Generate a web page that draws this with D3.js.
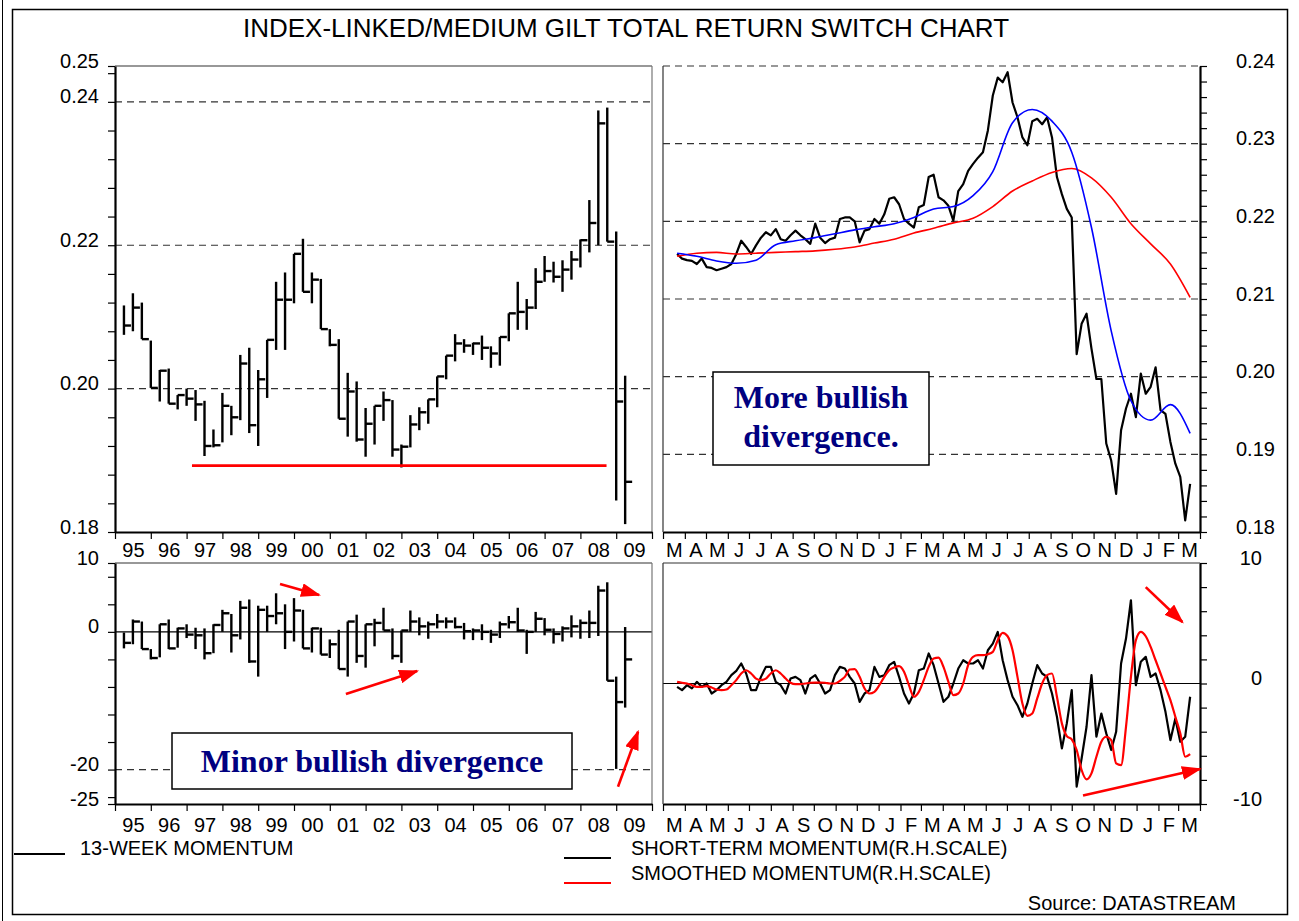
<!DOCTYPE html>
<html>
<head>
<meta charset="utf-8">
<script src="https://cdn.jsdelivr.net/npm/d3@7"></script>
<style>
  body { margin: 0; background: #fff; }
  svg { font-family: "Liberation Sans", Arial, sans-serif; }
</style>
</head>
<body>
<svg id="chart" width="1299" height="921"></svg>
<script>
// ---- quarterly bars, 1995Q1 .. 2009Q1 (high / low / close) ----
const ratioHigh = [0.2116, 0.2133, 0.2120, 0.2067, 0.2026, 0.2028, 0.1991, 0.2000, 0.1998, 0.1983,
  0.1943, 0.1994, 0.1976, 0.2047, 0.2057, 0.2026, 0.2068, 0.2149, 0.2162, 0.2188,
  0.2209, 0.2162, 0.2153, 0.2083, 0.2069, 0.2022, 0.2010, 0.1973, 0.1976, 0.1996,
  0.1984, 0.1922, 0.1963, 0.1974, 0.1985, 0.2017, 0.2046, 0.2076, 0.2069, 0.2064,
  0.2074, 0.2059, 0.2072, 0.2105, 0.2149, 0.2125, 0.2168, 0.2185, 0.2177, 0.2179,
  0.2192, 0.2208, 0.2263, 0.2388, 0.2392, 0.2219, 0.2018];
const ratioLow = [0.2075, 0.2080, 0.2069, 0.2001, 0.1982, 0.1979, 0.1971, 0.1976, 0.1955, 0.1906,
  0.1918, 0.1925, 0.1935, 0.1956, 0.1938, 0.1920, 0.1987, 0.2054, 0.2054, 0.2119,
  0.2135, 0.2119, 0.2083, 0.2059, 0.1958, 0.1933, 0.1926, 0.1905, 0.1922, 0.1955,
  0.1905, 0.1890, 0.1918, 0.1942, 0.1951, 0.1974, 0.2013, 0.2038, 0.2050, 0.2047,
  0.2040, 0.2029, 0.2032, 0.2066, 0.2082, 0.2082, 0.2111, 0.2149, 0.2148, 0.2135,
  0.2152, 0.2169, 0.2190, 0.2200, 0.2205, 0.1844, 0.1811];
const ratioClose = [0.2088, 0.2113, 0.2069, 0.2001, 0.2025, 0.1979, 0.1991, 0.1986, 0.1978, 0.1920,
  0.1921, 0.1976, 0.1960, 0.2035, 0.1949, 0.2013, 0.2068, 0.2124, 0.2124, 0.2188,
  0.2135, 0.2152, 0.2083, 0.2061, 0.1958, 0.1996, 0.1929, 0.1951, 0.1976, 0.1984,
  0.1915, 0.1919, 0.1950, 0.1967, 0.1985, 0.2017, 0.2046, 0.2063, 0.2060, 0.2063,
  0.2057, 0.2049, 0.2072, 0.2105, 0.2107, 0.2113, 0.2149, 0.2164, 0.2156, 0.2166,
  0.2180, 0.2207, 0.2231, 0.2370, 0.2205, 0.1982, 0.1870];

const momHigh = [-0.1, 1.8, 1.5, -2.5, 1.1, 1.8, 0.6, 1.1, 0.6, 0.5,
  1.1, 3.2, 2.6, 4.5, 4.7, 3.8, 3.8, 5.6, 4.0, 4.9,
  3.2, 0.6, 0.6, -1.1, 0.3, 1.5, 2.5, 1.1, 1.9, 3.5,
  0.5, 0.2, 3.1, 2.1, 1.5, 2.6, 2.1, 2.1, 1.3, 0.5,
  1.1, 0.3, 1.5, 2.3, 3.5, 0.3, 2.9, 2.0, 0.5, 0.8,
  2.4, 1.8, 3.1, 6.7, 7.2, -6.5, 0.7];
const momLow = [-2.4, -1.8, -2.5, -4.0, -3.7, -2.5, -2.3, -0.9, -2.5, -4.0,
  -3.1, 0, -3.0, -1.1, -4.5, -6.5, 0, 1.1, -2.5, -1.4,
  -2.4, -3.0, -3.3, -3.8, -5.4, -6.5, -4.5, -5.2, -2.1, 0.2,
  -4.0, -4.5, 0, -0.5, -1.0, 0.5, 0.5, 0.5, -1.1, -1.2,
  -1.2, -1.6, -0.9, 0.5, 0, -3.2, 0, -0.5, -1.7, -1.4,
  -0.8, -1.0, -0.9, -0.6, -7.1, -19.9, -11.0];
const momClose = [-1.6, 1.5, -2.5, -3.8, 1.1, -2.4, 0.5, -0.4, -0.5, -3.1,
  1.0, 2.7, -0.5, 3.5, -4.3, 3.2, 2.3, 2.7, 0, 3.1,
  -2.4, 0.5, -3.3, -1.8, -5.4, 1.5, -3.5, 1.1, 1.3, 0.2,
  -3.5, 0.2, 1.5, 0.8, 1.1, 1.5, 1.5, 0.7, 0.1, 0.2,
  0, -0.4, 1.1, 1.4, 0.2, 0, 1.9, 0.3, -0.3, 0.5,
  0.8, 1.3, 1.3, 6.0, -7.1, -10.2, -4.0];

// ---- weekly series, from 21 Mar 2007 ----
const ratioWeekly = [0.2158, 0.2152, 0.2150, 0.2149, 0.2145, 0.2152, 0.2141, 0.2140, 0.2137, 0.2139,
  0.2141, 0.2145, 0.2158, 0.2175, 0.2167, 0.2158, 0.2169, 0.2179, 0.2186, 0.2182,
  0.2190, 0.2177, 0.2175, 0.2182, 0.2188, 0.2182, 0.2177, 0.2171, 0.2197, 0.2179,
  0.2172, 0.2177, 0.2179, 0.2203, 0.2205, 0.2205, 0.2200, 0.2173, 0.2188, 0.2190,
  0.2203, 0.2197, 0.2209, 0.2229, 0.2231, 0.2222, 0.2203, 0.2197, 0.2192, 0.2218,
  0.2221, 0.2257, 0.2260, 0.2231, 0.2227, 0.2220, 0.2201, 0.2239, 0.2248, 0.2265,
  0.2274, 0.2282, 0.2289, 0.2317, 0.2362, 0.2385, 0.2379, 0.2392, 0.2353, 0.2334,
  0.2308, 0.2298, 0.2329, 0.2332, 0.2325, 0.2334, 0.2308, 0.2257, 0.2235, 0.2216,
  0.2205, 0.2029, 0.2068, 0.2081, 0.2036, 0.1997, 0.1997, 0.1914, 0.1892, 0.1849,
  0.1931, 0.1959, 0.1978, 0.1948, 0.2004, 0.1978, 0.1987, 0.2012, 0.1957, 0.1952,
  0.1916, 0.1888, 0.1871, 0.1815, 0.1862];
// moving averages, every 4 weeks
const ratioShortMA = [0.2159, 0.2155, 0.2149, 0.2146, 0.2150, 0.2170, 0.2175, 0.2179, 0.2184, 0.2189,
  0.2193, 0.2197, 0.2205, 0.2216, 0.2219, 0.2233, 0.2264, 0.2327, 0.2344, 0.2329,
  0.2289, 0.2192, 0.2059, 0.1969, 0.1944, 0.1964, 0.1927];
const ratioLongMA = [0.2155, 0.2159, 0.2160, 0.2158, 0.2159, 0.2160, 0.2161, 0.2162, 0.2164, 0.2167,
  0.2172, 0.2177, 0.2185, 0.2191, 0.2198, 0.2204, 0.2219, 0.2239, 0.2252, 0.2263,
  0.2268, 0.2256, 0.2231, 0.2197, 0.2171, 0.2145, 0.2102];

const shortMomentum = [-0.28, -0.55, -0.14, -0.41, 0.14, -0.28, 0, -0.83, -0.55, -0.14,
  0.14, 0.69, 1.05, 1.66, 0.83, -0.55, -0.55, 0.55, 1.38, 1.38,
  0.14, -0.14, -0.83, 0.41, 0.55, 0.28, -0.83, 0.41, 0.69, 0,
  -0.83, -0.55, 0.69, 1.38, 1.24, 0.55, 0, -1.52, -0.83, -0.55,
  1.38, 0.55, 0.69, 1.52, 1.80, 0.55, -0.83, -1.66, -0.83, 1.10,
  1.24, 2.49, 1.52, 0, -1.52, -1.10, 0, 1.24, 1.93, 1.66,
  1.66, 1.93, 1.24, 2.76, 3.31, 4.28, 1.93, 0.28, -1.10, -1.80,
  -2.76, -1.66, 0, 1.52, 0.83, 0.55, -0.83, -2.76, -5.39, -3.31,
  -0.55, -8.56, -6.22, -3.59, 0.69, -4.42, -2.49, -4.14, -5.52, -4.01,
  1.66, 3.73, 6.91, -0.14, 1.80, 2.21, 0.55, 0.83, -0.55, -2.35,
  -4.70, -2.90, -4.83, -4.42, -1.10];
const smoothMomentum = [0.14, 0.06, 0, -0.14, -0.28, -0.28, -0.22, -0.33, -0.50, -0.55,
  -0.50, -0.14, 0.28, 0.83, 1.10, 0.83, 0.41, 0.28, 0.41, 0.83,
  1.10, 0.83, 0.41, 0.06, -0.06, -0.06, 0, 0.06, 0.08, 0.08,
  0.06, 0, 0, 0.22, 0.55, 1.16, 1.19, 0.55, -0.41, -0.83,
  -0.69, -0.14, 0.55, 1.10, 1.33, 1.44, 0.97, -0.14, -1.10, -0.69,
  0.28, 1.38, 2.07, 2.15, 1.38, 0.14, -0.97, -0.83, 0, 1.52,
  2.21, 2.35, 2.35, 2.43, 2.62, 3.59, 4.20, 3.92, 2.76, 0.55,
  -1.66, -2.68, -2.49, -1.24, 0, 0.69, 0.83, -1.10, -3.31, -4.36,
  -4.64, -5.52, -7.18, -7.96, -7.46, -6.08, -4.83, -4.42, -4.70, -6.63,
  -6.77, -3.59, 0.55, 3.59, 4.28, 3.92, 3.04, 1.93, 0.83, -0.28,
  -1.38, -2.76, -4.14, -6.08, -5.86];

// ---- tick labels ----
const yearLabels = ["95", "96", "97", "98", "99", "00", "01", "02", "03", "04", "05", "06", "07", "08", "09"];
const monthLabels = ["M", "A", "M", "J", "J", "A", "S", "O", "N", "D", "J", "F",
  "M", "A", "M", "J", "J", "A", "S", "O", "N", "D", "J", "F", "M"];
const ratioLeftTicks = [0.18, 0.20, 0.22, 0.24, 0.245];
const ratioLeftLabels = ["0.18", "0.20", "0.22", "0.24", "0.25"];
const ratioRightTicks = [0.18, 0.19, 0.20, 0.21, 0.22, 0.23, 0.24];
const momLeftTicks = [10, 0, -20, -25];
const momRightTicks = [10, 0, -10];

// support line and arrows (data coordinates)
const supportLine = {from: 1997.15, to: 2008.73, value: 0.18926};
const arrowsLeft = [
  [[1999.61, 6.95], [2000.70, 5.35]],
  [[2001.45, -9.03], [2003.44, -5.69]],
  [[2009.05, -22.5], [2009.61, -14.5]]
];
const arrowsRight = [
  [[new Date(2009, 0, 14), 8.0], [new Date(2009, 2, 7), 5.1]],
  [[new Date(2008, 9, 17), -9.3], [new Date(2009, 3, 1), -7.1]]
];

const svg = d3.select("#chart");
const FONT = "'Liberation Sans', Arial, sans-serif";
const SERIF = "'Liberation Serif', 'Times New Roman', serif";

// panels
const L = {x0: 115, x1: 652}, R = {x0: 663, x1: 1200};
const T = {y0: 66, y1: 532}, B = {y0: 563, y1: 804};

const xYear = d3.scaleLinear().domain([1995, 2010]).range([L.x0, L.x1]);
const xDate = d3.scaleTime().domain([new Date(2007, 2, 1), new Date(2009, 3, 1)]).range([R.x0, R.x1]);
const yRatioL = d3.scaleLinear().domain([0.18, 0.245]).range([T.y1, T.y0]);
const yRatioR = d3.scaleLinear().domain([0.18, 0.24]).range([T.y1, T.y0]);
const yMomL = d3.scaleLinear().domain([-25, 10]).range([B.y1, B.y0]);
const yMomR = d3.scaleLinear().domain([-10, 10]).range([B.y1, B.y0]);

const quarterX = i => xYear(1995 + 0.25 * (i + 1));
const start = new Date(2007, 2, 21);
const weekDates = ratioWeekly.map((_, i) => d3.timeDay.offset(start, 7 * i));
const maDates = ratioShortMA.map((_, i) => d3.timeDay.offset(start, 28 * i));

// outer frame
svg.append("line").attr("x1", 2.5).attr("x2", 2.5).attr("y1", 0).attr("y2", 921)
  .attr("stroke", "#000").attr("stroke-width", 1);
svg.append("rect").attr("x", 12.5).attr("y", 9.5).attr("width", 1275).attr("height", 905)
  .attr("fill", "none").attr("stroke", "#000").attr("stroke-width", 1.5);

// title
svg.append("text").attr("x", 626).attr("y", 37).attr("text-anchor", "middle")
  .style("font-size", "26px").text("INDEX-LINKED/MEDIUM GILT TOTAL RETURN SWITCH CHART");

// gridlines
function hGrid(values, y, x0, x1, dashed) {
  svg.append("g").selectAll("line").data(values).join("line")
    .attr("x1", x0).attr("x2", x1)
    .attr("y1", d => y(d)).attr("y2", d => y(d))
    .attr("stroke", dashed ? "#333" : "#000")
    .attr("stroke-width", 1.2)
    .attr("stroke-dasharray", dashed ? "7,5" : null);
}
hGrid([0.20, 0.22, 0.24], yRatioL, L.x0, L.x1, true);
hGrid([0.19, 0.20, 0.21, 0.22, 0.23, 0.24], yRatioR, R.x0, R.x1, true);
hGrid([-20], yMomL, L.x0, L.x1, true);
hGrid([0], yMomL, L.x0, L.x1, false);
hGrid([0], yMomR, R.x0, R.x1, false);

// thin frame sides
function seg(x1, y1, x2, y2, color, w) {
  svg.append("line").attr("x1", x1).attr("y1", y1).attr("x2", x2).attr("y2", y2)
    .attr("stroke", color).attr("stroke-width", w);
}
seg(L.x0, T.y0, L.x1, T.y0, "#333", 1.2);
seg(L.x1, T.y0, L.x1, T.y1, "#777", 1.2);
seg(R.x0, T.y0, R.x0, T.y1, "#333", 1.2);
seg(L.x0, B.y0, L.x1, B.y0, "#333", 1.2);
seg(L.x1, B.y0, L.x1, B.y1, "#777", 1.2);
seg(R.x0, B.y0, R.x1, B.y0, "#333", 1.2);
seg(R.x0, B.y0, R.x0, B.y1, "#333", 1.2);

// axes
function styleAxis(g) {
  g.select(".domain").attr("stroke", "#000").attr("stroke-width", 2.2);
  g.selectAll(".tick line").attr("stroke", "#000").attr("stroke-width", 1.2);
  return g;
}
function labelsOnly(g) {
  g.select(".domain").remove();
  g.selectAll(".tick line").remove();
  g.attr("font-size", null).attr("font-family", null);
  g.selectAll("text").style("font-size", "20px").style("font-family", FONT).attr("fill", "#000");
  return g;
}
const plain = d => String(d);

// left ratio axis
const ratioMinor = d3.range(17).map(i => 0.18 + 0.004 * i).concat([0.245]);
styleAxis(svg.append("g").attr("transform", `translate(${L.x0},0)`)
  .call(d3.axisLeft(yRatioL).tickValues(ratioMinor).tickSize(7).tickSizeOuter(0).tickFormat("")));
labelsOnly(svg.append("g").attr("transform", `translate(${L.x0},0)`)
  .call(d3.axisLeft(yRatioL).tickValues(ratioLeftTicks).tickSize(0).tickPadding(16)
    .tickFormat((d, i) => ratioLeftLabels[i])))
  .selectAll("text").attr("dy", "0.05em");

// right ratio axis
const ratioRightMinor = d3.range(31).map(i => 0.18 + 0.002 * i);
styleAxis(svg.append("g").attr("transform", `translate(${R.x1},0)`)
  .call(d3.axisRight(yRatioR).tickValues(ratioRightMinor).tickSize(7).tickSizeOuter(0).tickFormat("")));
labelsOnly(svg.append("g").attr("transform", `translate(${R.x1},0)`)
  .call(d3.axisRight(yRatioR).tickValues(ratioRightTicks).tickSize(0).tickPadding(36)
    .tickFormat(d3.format(".2f"))))
  .selectAll("text").attr("dy", "0.05em");

// left momentum axis
const momMinor = d3.range(-24, 10, 4).concat([10, -25]);
styleAxis(svg.append("g").attr("transform", `translate(${L.x0},0)`)
  .call(d3.axisLeft(yMomL).tickValues(momMinor).tickSize(7).tickSizeOuter(0).tickFormat("")));
labelsOnly(svg.append("g").attr("transform", `translate(${L.x0},0)`)
  .call(d3.axisLeft(yMomL).tickValues(momLeftTicks).tickSize(0).tickPadding(16).tickFormat(plain)))
  .selectAll("text").attr("dy", "0.05em");

// right momentum axis
styleAxis(svg.append("g").attr("transform", `translate(${R.x1},0)`)
  .call(d3.axisRight(yMomR).tickValues(d3.range(-10, 11, 2)).tickSize(7).tickSizeOuter(0).tickFormat("")));
labelsOnly(svg.append("g").attr("transform", `translate(${R.x1},0)`)
  .call(d3.axisRight(yMomR).tickValues(momRightTicks).tickSize(0).tickPadding(62).tickFormat(plain)))
  .selectAll("text").attr("dy", "0.05em").attr("text-anchor", "end");

// bottom axes
const yearTicks = d3.range(1995, 2011);
const yearMids = yearLabels.map((_, i) => 1995.5 + i);
const monthTicks = d3.timeMonth.range(new Date(2007, 2, 1), new Date(2009, 3, 2));
const monthMids = monthLabels.map((_, i) => {
  const m = d3.timeMonth.offset(new Date(2007, 2, 1), i);
  return new Date((+m + +d3.timeMonth.offset(m, 1)) / 2);
});
[[T.y1, 25], [B.y1, 28]].forEach(([y, pad]) => {
  styleAxis(svg.append("g").attr("transform", `translate(0,${y})`)
    .call(d3.axisBottom(xYear).tickValues(yearTicks).tickSize(7).tickSizeOuter(0).tickFormat("")));
  labelsOnly(svg.append("g").attr("transform", `translate(0,${y})`)
    .call(d3.axisBottom(xYear).tickValues(yearMids).tickSize(0).tickPadding(pad)
      .tickFormat((d, i) => yearLabels[i])))
    .selectAll("text").attr("dy", "0");
  styleAxis(svg.append("g").attr("transform", `translate(0,${y})`)
    .call(d3.axisBottom(xDate).tickValues(monthTicks).tickSize(7).tickSizeOuter(0).tickFormat("")));
  labelsOnly(svg.append("g").attr("transform", `translate(0,${y})`)
    .call(d3.axisBottom(xDate).tickValues(monthMids).tickSize(0).tickPadding(pad)
      .tickFormat((d, i) => monthLabels[i])))
    .selectAll("text").attr("dy", "0");
});

// HLC bars
function drawBars(high, low, close, y) {
  const g = svg.append("g").attr("stroke", "#000").attr("stroke-width", 2.4);
  g.selectAll("line.hl").data(high).join("line").attr("class", "hl")
    .attr("x1", (d, i) => quarterX(i)).attr("x2", (d, i) => quarterX(i))
    .attr("y1", d => y(d)).attr("y2", (d, i) => y(low[i]));
  g.selectAll("line.cl").data(close).join("line").attr("class", "cl")
    .attr("x1", (d, i) => quarterX(i)).attr("x2", (d, i) => quarterX(i) + 7)
    .attr("y1", d => y(d)).attr("y2", d => y(d));
}
drawBars(ratioHigh, ratioLow, ratioClose, yRatioL);
drawBars(momHigh, momLow, momClose, yMomL);

// support line
svg.append("line")
  .attr("x1", xYear(supportLine.from)).attr("x2", xYear(supportLine.to))
  .attr("y1", yRatioL(supportLine.value)).attr("y2", yRatioL(supportLine.value))
  .attr("stroke", "#ff0000").attr("stroke-width", 2.6);

// weekly lines
function drawLine(dates, values, y, color, width) {
  svg.append("path").datum(values)
    .attr("fill", "none").attr("stroke", color).attr("stroke-width", width)
    .attr("stroke-linejoin", "round")
    .attr("d", d3.line().x((d, i) => xDate(dates[i])).y(d => y(d)));
}
function drawSmooth(dates, values, y, color, width) {
  svg.append("path").datum(values)
    .attr("fill", "none").attr("stroke", color).attr("stroke-width", width)
    .attr("d", d3.line().curve(d3.curveMonotoneX).x((d, i) => xDate(dates[i])).y(d => y(d)));
}
drawLine(weekDates, ratioWeekly, yRatioR, "#000", 2.2);
drawSmooth(maDates, ratioLongMA, yRatioR, "#ff0000", 1.6);
drawSmooth(maDates, ratioShortMA, yRatioR, "#0000ff", 1.6);
drawLine(weekDates, shortMomentum, yMomR, "#000", 2.2);
drawSmooth(weekDates, smoothMomentum, yMomR, "#ff0000", 2.2);

// arrows
svg.append("defs").append("marker")
  .attr("id", "head").attr("markerUnits", "userSpaceOnUse")
  .attr("markerWidth", 20).attr("markerHeight", 14).attr("refX", 18).attr("refY", 7)
  .attr("orient", "auto")
  .append("path").attr("d", "M0,0 L20,7 L0,14 Z").attr("fill", "#ff0000");
function drawArrows(list, x, y) {
  svg.append("g").selectAll("line").data(list).join("line")
    .attr("x1", d => x(d[0][0])).attr("y1", d => y(d[0][1]))
    .attr("x2", d => x(d[1][0])).attr("y2", d => y(d[1][1]))
    .attr("stroke", "#ff0000").attr("stroke-width", 2.6)
    .attr("marker-end", "url(#head)");
}
drawArrows(arrowsLeft, xYear, yMomL);
drawArrows(arrowsRight, xDate, yMomR);

// annotation boxes
function noteBox(x, y, w, h, lines, baselines) {
  svg.append("rect").attr("x", x).attr("y", y).attr("width", w).attr("height", h)
    .attr("fill", "#fff").attr("stroke", "#000").attr("stroke-width", 1.5);
  lines.forEach((t, i) => {
    svg.append("text").attr("x", x + w / 2).attr("y", baselines[i])
      .attr("text-anchor", "middle")
      .style("font-family", SERIF).style("font-weight", "bold").style("font-size", "32px")
      .attr("fill", "#000080").text(t);
  });
}
noteBox(713, 372, 216, 93, ["More bullish", "divergence."], [408, 447]);
noteBox(172, 733, 400, 56, ["Minor bullish divergence"], [772]);

// legend
function legendItem(x1, x2, ly, color, tx, ty, label) {
  svg.append("line").attr("x1", x1).attr("x2", x2).attr("y1", ly).attr("y2", ly)
    .attr("stroke", color).attr("stroke-width", 2);
  svg.append("text").attr("x", tx).attr("y", ty).style("font-size", "20px").text(label);
}
legendItem(14, 65, 854, "#000", 80, 855, "13-WEEK MOMENTUM");
legendItem(564, 611, 858, "#000", 631, 855, "SHORT-TERM MOMENTUM(R.H.SCALE)");
legendItem(564, 611, 883, "#ff0000", 631, 880, "SMOOTHED MOMENTUM(R.H.SCALE)");
svg.append("text").attr("x", 1236).attr("y", 910).attr("text-anchor", "end")
  .style("font-size", "20px").text("Source: DATASTREAM");
</script>
</body>
</html>
